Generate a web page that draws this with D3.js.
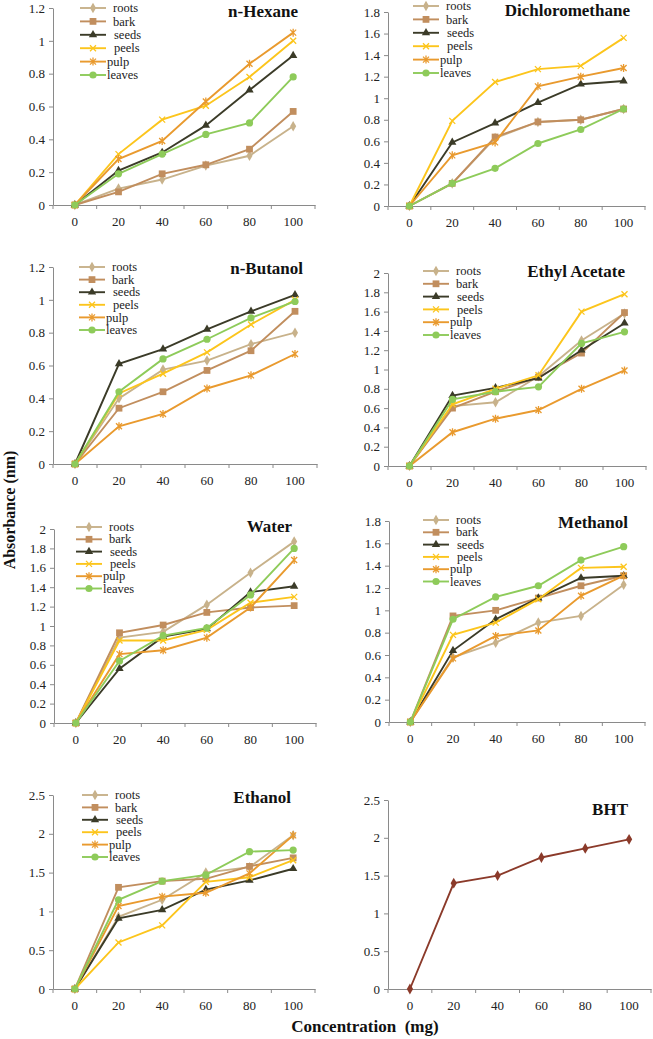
<!DOCTYPE html>
<html>
<head>
<meta charset="utf-8">
<script src="https://cdn.jsdelivr.net/npm/d3@7"></script>
<style>
  body { margin: 0; background: #fff; }
  svg { display: block; }
  svg text { font-family: "Liberation Serif", "DejaVu Serif", serif; }
</style>
</head>
<body>
<svg id="chart" width="653" height="1039" font-family="Liberation Serif, DejaVu Serif, serif"></svg>
<script>
// concentrations on the x axis (mg)
const concentrations = ["0", "20", "40", "60", "80", "100"];
const extracts = ["roots", "bark", "seeds", "peels", "pulp", "leaves"];
const solvents = ["n-Hexane", "Dichloromethane", "n-Butanol", "Ethyl Acetate", "Water", "Methanol", "Ethanol", "BHT"];

// absorbance, one row per extract (roots, bark, seeds, peels, pulp, leaves)
const hexane = [
  [0, 0.10, 0.155, 0.24, 0.30, 0.48],
  [0, 0.08, 0.19, 0.245, 0.34, 0.57],
  [0, 0.21, 0.32, 0.485, 0.70, 0.91],
  [0, 0.31, 0.52, 0.605, 0.78, 1.00],
  [0, 0.28, 0.39, 0.63, 0.86, 1.05],
  [0, 0.19, 0.31, 0.43, 0.50, 0.78]
];
const dichloromethane = [
  [0, 0.21, 0.63, 0.78, 0.80, 0.90],
  [0, 0.21, 0.64, 0.78, 0.80, 0.90],
  [0, 0.59, 0.77, 0.96, 1.13, 1.16],
  [0, 0.79, 1.15, 1.27, 1.30, 1.56],
  [0, 0.47, 0.59, 1.11, 1.20, 1.28],
  [0, 0.21, 0.35, 0.58, 0.71, 0.90]
];
const butanol = [
  [0, 0.40, 0.575, 0.63, 0.73, 0.80],
  [0, 0.34, 0.44, 0.57, 0.69, 0.93],
  [0, 0.61, 0.70, 0.82, 0.93, 1.03],
  [0, 0.43, 0.55, 0.68, 0.85, 1.00],
  [0, 0.23, 0.305, 0.46, 0.54, 0.67],
  [0, 0.44, 0.64, 0.76, 0.89, 0.99]
];
const ethylAcetate = [
  [0, 0.62, 0.66, 0.93, 1.30, 1.58],
  [0, 0.60, 0.77, 0.92, 1.17, 1.59],
  [0, 0.73, 0.81, 0.91, 1.20, 1.48],
  [0, 0.64, 0.80, 0.94, 1.60, 1.78],
  [0, 0.35, 0.49, 0.58, 0.80, 0.99],
  [0, 0.69, 0.77, 0.82, 1.27, 1.39]
];
const water = [
  [0, 0.88, 0.94, 1.22, 1.55, 1.87],
  [0, 0.93, 1.01, 1.14, 1.19, 1.21],
  [0, 0.56, 0.89, 0.97, 1.35, 1.41],
  [0, 0.85, 0.85, 0.96, 1.24, 1.30],
  [0, 0.71, 0.75, 0.88, 1.19, 1.68],
  [0, 0.64, 0.90, 0.98, 1.32, 1.80]
];
const methanol = [
  [0, 0.58, 0.71, 0.89, 0.95, 1.23],
  [0, 0.95, 1.00, 1.11, 1.22, 1.31],
  [0, 0.64, 0.92, 1.11, 1.29, 1.31],
  [0, 0.78, 0.89, 1.10, 1.38, 1.39],
  [0, 0.57, 0.77, 0.82, 1.13, 1.31],
  [0, 0.92, 1.12, 1.22, 1.45, 1.57]
];
const ethanol = [
  [0, 0.93, 1.15, 1.50, 1.57, 1.98],
  [0, 1.31, 1.39, 1.42, 1.58, 1.69],
  [0, 0.91, 1.02, 1.28, 1.40, 1.55],
  [0, 0.60, 0.82, 1.38, 1.44, 1.66],
  [0, 1.07, 1.19, 1.24, 1.49, 1.98],
  [0, 1.15, 1.39, 1.47, 1.77, 1.79]
];
const bht = [0, 1.40, 1.50, 1.74, 1.86, 1.98];

const yMaxes = [1.2, 1.8, 1.2, 2, 2, 1.8, 2.5, 2.5];
const ySteps = [0.2, 0.2, 0.2, 0.2, 0.2, 0.2, 0.5, 0.5];

const colors = ["#c8b28b", "#c18e5e", "#3b3b28", "#fcc51c", "#e99a2e", "#8ecb5a"];
const bhtColor = "#8b3a2a";

const FONT = "Liberation Serif, DejaVu Serif, serif";

// plot boxes and title / legend anchors, in page pixels
const boxes = [
  { x0: 53, x1: 315, top: 8, bottom: 205, title: [298, 17], legend: [80, 8, 13.4] },
  { x0: 388, x1: 645, top: 12, bottom: 206, title: [630, 16], legend: [413, 6, 13.4] },
  { x0: 53, x1: 317, top: 267, bottom: 464, title: [303, 274], legend: [79, 267, 12.6] },
  { x0: 388, x1: 646, top: 273, bottom: 466, title: [625, 277], legend: [423, 271, 12.8] },
  { x0: 54, x1: 316, top: 529, bottom: 723, title: [292, 532], legend: [76, 527, 12.3] },
  { x0: 389, x1: 645, top: 521, bottom: 722, title: [628, 528], legend: [423, 520, 12.3] },
  { x0: 53, x1: 315, top: 795, bottom: 989, title: [291, 803], legend: [82, 795, 12.4] },
  { x0: 388, x1: 651, top: 800, bottom: 989, title: [628, 815], legend: null }
];

const panelData = [hexane, dichloromethane, butanol, ethylAcetate, water, methanol, ethanol];
const labelGap = [6, 6, 7, 7, 0, 0];

const svg = d3.select("#chart");

function marker(g, kind, color) {
  const s = d3.symbol();
  switch (kind) {
    case "roots":
      g.append("path").attr("d", s.type(d3.symbolDiamond).size(32)()).attr("fill", color);
      break;
    case "bark":
      g.append("path").attr("d", s.type(d3.symbolSquare).size(46)()).attr("fill", color);
      break;
    case "seeds":
      g.append("path").attr("d", s.type(d3.symbolTriangle).size(30)()).attr("fill", color);
      break;
    case "peels":
      g.append("path").attr("d", "M-3,-3L3,3M-3,3L3,-3")
        .attr("stroke", color).attr("stroke-width", 1.3).attr("fill", "none");
      break;
    case "pulp":
      g.append("path").attr("d", "M-3,-3L3,3M-3,3L3,-3M0,-4L0,4")
        .attr("stroke", color).attr("stroke-width", 1.3).attr("fill", "none");
      break;
    case "leaves":
      g.append("circle").attr("r", 3.6).attr("fill", color);
      break;
    case "bht":
      g.append("path").attr("d", s.type(d3.symbolDiamond).size(34)()).attr("fill", color);
      break;
  }
}

boxes.forEach((b, i) => {
  const g = svg.append("g");
  const x = d3.scaleBand().domain(concentrations).range([b.x0, b.x1]).padding(0);
  const y = d3.scaleLinear().domain([0, yMaxes[i]]).range([b.bottom, b.top]);
  const cx = d => x(d) + x.bandwidth() / 2;

  // y axis
  const yTicks = d3.ticks(0, yMaxes[i], Math.round(yMaxes[i] / ySteps[i]));
  const yAxis = g.append("g").attr("transform", `translate(${b.x0},0)`)
    .call(d3.axisLeft(y).tickValues(yTicks).tickFormat(d3.format("~g")).tickSize(4).tickSizeOuter(0));
  yAxis.attr("font-family", FONT).attr("font-size", 13);
  yAxis.select(".domain").attr("stroke", "#8a8a8a");
  yAxis.selectAll(".tick line").attr("stroke", "#8a8a8a");
  yAxis.selectAll(".tick text").attr("x", -8).attr("fill", "#222");

  // x axis: ticks between categories
  const xAxis = g.append("g").attr("transform", `translate(0,${b.bottom})`)
    .call(d3.axisBottom(x).tickSize(0).tickSizeOuter(0));
  xAxis.attr("font-family", FONT).attr("font-size", 13);
  xAxis.select(".domain").attr("stroke", "#8a8a8a");
  xAxis.selectAll(".tick text").attr("y", 12).attr("fill", "#222");
  const bounds = concentrations.map(c => x(c)).concat([b.x1]);
  xAxis.selectAll("line.sep").data(bounds).join("line").attr("class", "sep")
    .attr("x1", d => d).attr("x2", d => d).attr("y1", 0).attr("y2", 4)
    .attr("stroke", "#8a8a8a");

  const line = d3.line().x((d, j) => cx(concentrations[j])).y(d => y(d));

  if (i < panelData.length) {
    const rows = panelData[i];
    rows.forEach((vals, k) => {
      g.append("path").datum(vals).attr("d", line)
        .attr("fill", "none").attr("stroke", colors[k]).attr("stroke-width", 1.9);
      vals.forEach((v, j) => {
        const m = g.append("g").attr("transform", `translate(${cx(concentrations[j])},${y(v)})`);
        marker(m, extracts[k], colors[k]);
      });
    });

    // legend
    const [lx, ly, step] = b.legend;
    extracts.forEach((name, k) => {
      const yy = ly + k * step;
      g.append("line").attr("x1", lx).attr("x2", lx + 26).attr("y1", yy).attr("y2", yy)
        .attr("stroke", colors[k]).attr("stroke-width", 1.9);
      marker(g.append("g").attr("transform", `translate(${lx + 13},${yy})`), name, colors[k]);
      g.append("text").attr("x", lx + 27 + labelGap[k]).attr("y", yy).attr("dy", "0.33em")
        .attr("fill", "#222").attr("font-family", FONT).attr("font-size", 12.5).text(name);
    });
  } else {
    g.append("path").datum(bht).attr("d", line)
      .attr("fill", "none").attr("stroke", bhtColor).attr("stroke-width", 1.9);
    bht.forEach((v, j) => {
      marker(g.append("g").attr("transform", `translate(${cx(concentrations[j])},${y(v)})`), "bht", bhtColor);
    });
  }

  g.append("text").attr("x", b.title[0]).attr("y", b.title[1]).attr("text-anchor", "end")
    .attr("font-family", FONT).attr("font-weight", "bold").attr("font-size", 17).attr("fill", "#111")
    .text(solvents[i]);
});

// shared axis titles
svg.append("text").attr("transform", "translate(15,510) rotate(-90)")
  .attr("text-anchor", "middle").attr("font-family", FONT).attr("font-weight", "bold")
  .attr("font-size", 16).attr("fill", "#111").text("Absorbance (nm)");
svg.append("text").attr("x", 365).attr("y", 1032).attr("text-anchor", "middle")
  .attr("font-family", FONT).attr("font-weight", "bold").attr("font-size", 17).attr("fill", "#111")
  .style("white-space", "pre").text("Concentration  (mg)");
</script>
</body>
</html>
